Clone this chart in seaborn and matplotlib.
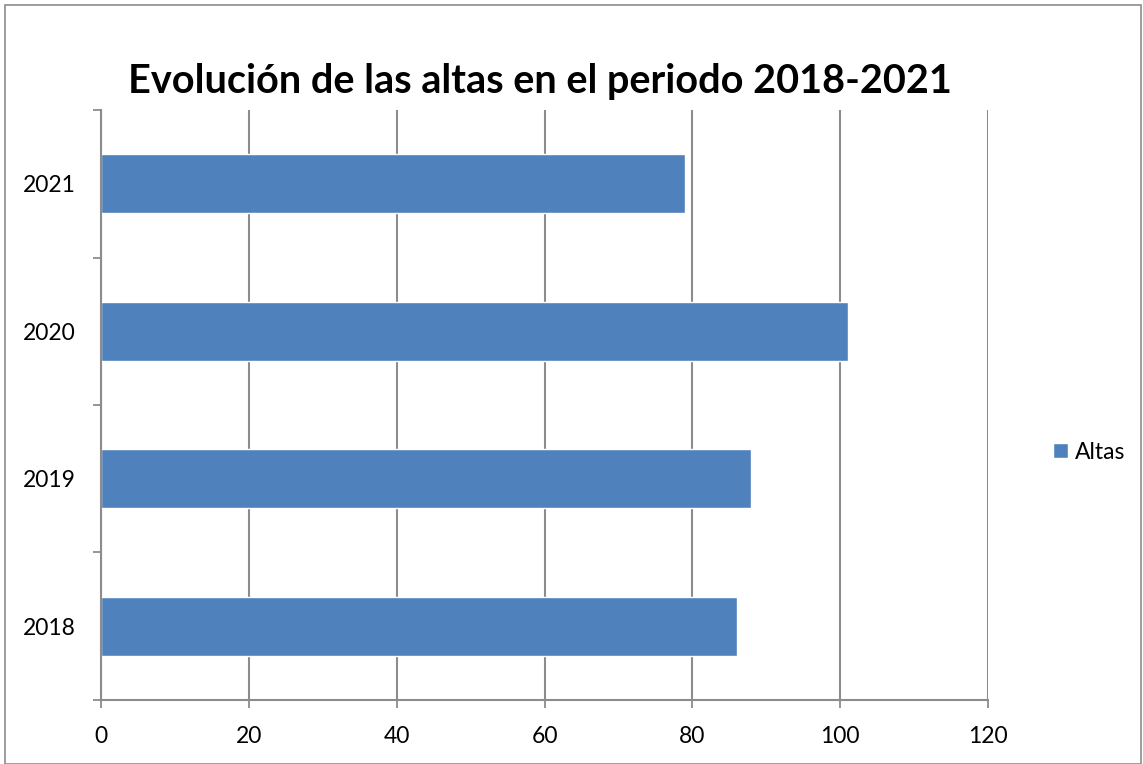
import pandas as pd
import seaborn as sns
from matplotlib import pyplot as plt
from matplotlib.patches import Rectangle

# datos del gráfico
anios = ['2021', '2020', '2019', '2018']
altas = [79, 101, 88, 86]
x_ticks = [0, 20, 40, 60, 80, 100, 120]

df = pd.DataFrame({'anio': anios, 'Altas': altas})

sns.set_style('white')
plt.rcParams['font.family'] = ['Lato', 'DejaVu Sans']
plt.rcParams['text.color'] = 'black'
plt.rcParams['xtick.color'] = 'black'
plt.rcParams['ytick.color'] = 'black'

fig = plt.figure(figsize=(11.43, 7.64), dpi=100)
ax = fig.add_axes([0.0884, 0.0838, 0.7760, 0.7722])

sns.barplot(data=df, x='Altas', y='anio', order=anios, orient='h',
            color='#4F81BD', saturation=1, width=0.4, ax=ax, label='Altas')

gris = '#8C8C8C'
ax.set_xlim(0, 120)
ax.set_ylim(3.5, -0.5)
ax.set_xticks(x_ticks)
ax.set_xticklabels([str(v) for v in x_ticks], fontsize=16.5)
ax.tick_params(axis='x', bottom=True, length=6, width=1.3, color=gris,
               labelcolor='black', pad=13, direction='out')
ax.tick_params(axis='y', which='major', left=False, length=0, labelsize=16.5,
               labelcolor='black', pad=18)
ax.set_yticks([-0.5, 0.5, 1.5, 2.5, 3.5], minor=True)
ax.tick_params(axis='y', which='minor', left=True, length=5.5, width=1.3,
               color=gris, direction='out')
ax.xaxis.grid(True, color=gris, linewidth=1.5)
ax.set_axisbelow(True)
ax.set_xlabel('')
ax.set_ylabel('')

for s in ['top', 'right']:
    ax.spines[s].set_visible(False)
for s in ['left', 'bottom']:
    ax.spines[s].set_color(gris)
    ax.spines[s].set_linewidth(1.5)

fig.text(0.472, 0.893, 'Evolución de las altas en el periodo 2018-2021',
         ha='center', va='center', fontsize=28.5, fontweight='bold', color='black')

h, l = ax.get_legend_handles_labels()
fig.legend(h, l, loc='center left', bbox_to_anchor=(0.903, 0.408),
           frameon=False, fontsize=16.5, handlelength=0.65, handleheight=0.65,
           handletextpad=0.3)
if ax.get_legend() is not None:
    ax.get_legend().remove()

# marco exterior
fig.patches.append(Rectangle((0.004, 0.0), 0.994, 0.994, transform=fig.transFigure,
                             fill=False, edgecolor=gris, linewidth=1.2))

plt.savefig('out.png', dpi=100)
